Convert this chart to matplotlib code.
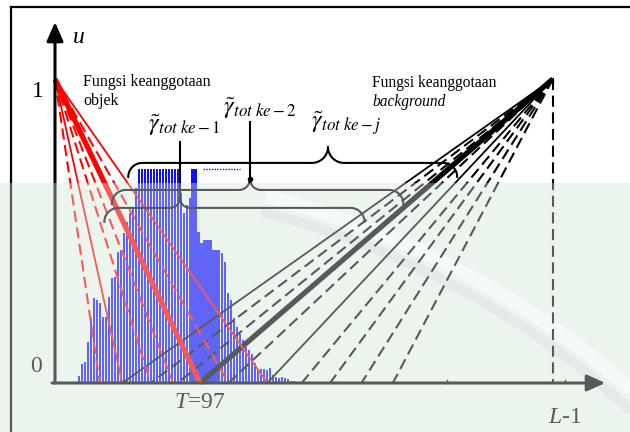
import matplotlib
matplotlib.use('Agg')
import matplotlib.pyplot as plt
import numpy as np
from matplotlib.lines import Line2D
from matplotlib.patches import Rectangle, FancyArrowPatch

plt.rcParams['font.family'] = 'Liberation Serif'
plt.rcParams['mathtext.fontset'] = 'custom'
plt.rcParams['mathtext.rm'] = 'Liberation Serif'
plt.rcParams['mathtext.it'] = 'Liberation Serif:italic'
plt.rcParams['lines.scale_dashes'] = False

PX_X = 1.495   # pixels per grey level
PX_Y = 304.0   # pixels per unit membership

T = 97          # threshold
L_END = 333     # where the background membership reaches 1
L_TICK = 341    # position of the L-1 label
X_TIP = 368     # end of the x axis arrow

# histogram (grey level, count); counts above HIST_CAP are cut off
levels = np.arange(16, 164, 2)
hist = [7, 19, 21, 41, 65, 85, 83, 80, 66, 66,
        86, 105, 106, 131, 133, 150, 161, 170, 176, 195,
        215, 225, 235, 245, 250, 255, 260, 262, 258, 250,
        245, 238, 230, 220, 190, 170, 178, 185, 222, 218,
        151, 140, 143, 143, 143, 133, 133, 133, 130, 121,
        90, 83, 65, 56, 49, 43, 36, 33, 29, 20,
        14, 14, 14, 13, 15, 8, 6, 5, 6, 5,
        4, 2, 2, 1]
HIST_SCALE = 304.0
HIST_CAP = 0.705

# object membership lines: from (0, 1) down to these grey levels
red_ends = [30, 45, 64, 79, 97, 116, 142]
red_styles = ['dash', 'solid', 'dash', 'dash', 'thick', 'dash', 'solid']
# background membership lines: from (L_END, 1) down to these grey levels
black_ends = [45, 64, 82, 97, 116, 142, 165, 184, 205, 226]
black_styles = ['solid', 'dash', 'dash', 'thick', 'dash', 'solid',
                'dash', 'dash', 'dash', 'dash']

# braces: left end, cusp, right end, level, cusp height (px)
brace_x0 = [33, 38, 49]
brace_xc = [83.6, 130.4, 182.6]
brace_x1 = [207, 233, 269]
brace_u = [0.576, 0.635, 0.724]
brace_rise = [10, 11, 16]
brace_labels = [r'$\tilde{\gamma}_{tot\ ke-1}$', r'$\tilde{\gamma}_{tot\ ke-2}$',
                r'$\tilde{\gamma}_{tot\ ke-j}$']
label_x = [62, 112.5, 171]
label_u = [0.829, 0.885, 0.836]
pointer_top = [0.793, 0.859, None]

fig = plt.figure(figsize=(6.3, 4.32), dpi=100)
ax = fig.add_axes([0, 0, 1, 1])
ax.set_xlim(-55 / PX_X, 575 / PX_X)
ax.set_ylim(-49 / PX_Y, 383 / PX_Y)
ax.axis('off')

# tinted lower half of the page, with the pale arc of the watermark
fig.add_artist(Rectangle((0, 0), 1, 1 - 183 / 432, transform=fig.transFigure,
                         facecolor='#f1f6f2', edgecolor='none', zorder=-1))


def wm_arc(radius, colour, width):
    # circle given in pixels, converted to data units
    a = np.linspace(np.radians(44), np.radians(76), 200)
    px = 56.5 + radius * np.cos(a)
    py = 1034.8 - radius * np.sin(a)
    keep = py > 185
    ax.plot((px[keep] - 55) / PX_X, (383 - py[keep]) / PX_Y, color=colour, lw=width,
            solid_capstyle='butt', zorder=0)


wm_arc(864, 'white', 10)
wm_arc(848, '#e4e7e5', 7)

# histogram
heights = np.minimum(np.array(hist) / HIST_SCALE, HIST_CAP)
ax.bar(levels, heights, width=1.4, color='#1010ff', linewidth=0, zorder=1)
ax.plot([99, 124], [HIST_CAP, HIST_CAP], ls=(0, (1, 1)), color='#1010ff', lw=1, zorder=1)


def line_kw(style, colour):
    if style == 'thick':
        return dict(color=colour, lw=3.8, solid_capstyle='butt')
    if style == 'solid':
        return dict(color=colour, lw=1.3)
    return dict(color=colour, lw=1.5, dashes=(8, 4))


for end, st in zip(black_ends, black_styles):
    ax.plot([L_END, end], [1, 0], zorder=3, **line_kw(st, 'black'))
for end, st in zip(red_ends, red_styles):
    ax.plot([0, end], [1, 0], zorder=3, **line_kw(st, '#ff0000'))

# vertical dashed line at the background peak
ax.plot([L_END, L_END], [1, 0], color='black', lw=1.5, dashes=(8, 4), zorder=3)


def brace(x0, xc, x1, level, rise, end=14):
    ex, ey = end / PX_X, end / PX_Y
    cx, cy = rise / PX_X, rise / PX_Y
    t = np.linspace(0, np.pi / 2, 25)
    xs = np.concatenate([x0 + ex - ex * np.cos(t),
                         xc - cx + cx * np.sin(t),
                         xc + cx - cx * np.cos(t),
                         x1 - ex + ex * np.sin(t)])
    ys = np.concatenate([level - ey + ey * np.sin(t),
                         level + cy - cy * np.cos(t),
                         level + cy - cy * np.sin(t),
                         level - ey + ey * np.cos(t)])
    return xs, ys


for i in range(3):
    bx, by = brace(brace_x0[i], brace_xc[i], brace_x1[i], brace_u[i], brace_rise[i])
    ax.plot(bx, by, color='black', lw=1.5, zorder=4)
    tip = brace_u[i] + brace_rise[i] / PX_Y
    if pointer_top[i] is not None:
        ax.plot([brace_xc[i], brace_xc[i]], [tip, pointer_top[i]], color='black', lw=1.5, zorder=4)
    ax.text(label_x[i], label_u[i], brace_labels[i], fontsize=17.5, math_fontfamily='stix',
            ha='left', va='baseline', zorder=4)
ax.plot([brace_xc[1]], [brace_u[1] + brace_rise[1] / PX_Y], 'o', color='black', ms=3, zorder=4)

# axes with arrow heads
ax.add_patch(FancyArrowPatch((-2, 0), (X_TIP, 0), arrowstyle='-|>,head_length=1.1,head_width=0.5',
                             mutation_scale=10, lw=2.2, color='black', shrinkA=0, shrinkB=0, zorder=5))
ax.add_patch(FancyArrowPatch((0, 0), (0, 1.1875), arrowstyle='-|>,head_length=1.15,head_width=0.5',
                             mutation_scale=10, lw=2.2, color='black', shrinkA=0, shrinkB=0, zorder=5))
for tx in [262, L_TICK]:
    ax.plot([tx, tx], [0, 3 / PX_Y], color='black', lw=1, zorder=5)

ax.text(12, 1.118, 'u', fontsize=17, style='italic', ha='left', va='baseline')
ax.text(-7.4, 0.941, '1', fontsize=17, ha='right', va='baseline')
ax.text(-8.7, 0.036, '0', fontsize=17, ha='right', va='baseline')
ax.text(T, -0.082, r'$T$=97', fontsize=17, ha='center', va='baseline')
ax.text(L_TICK, -0.1316, r'$L$-1', fontsize=17, ha='center', va='baseline')

ax.text(18.7, 0.977, 'Fungsi keanggotaan', fontsize=11.5, ha='left', va='baseline')
ax.text(18.7, 0.915, 'objek', fontsize=11.5, ha='left', va='baseline')
ax.text(212, 0.974, 'Fungsi keanggotaan', fontsize=11.2, ha='left', va='baseline')
ax.text(212, 0.912, 'background', fontsize=11.2, style='italic', ha='left', va='baseline')

# frame
fig.add_artist(Line2D([11 / 630, 1], [1 - 7 / 432, 1 - 7 / 432], color='black', lw=1.6, zorder=3))
fig.add_artist(Line2D([11 / 630, 11 / 630], [0, 1 - 7 / 432], color='black', lw=1.6, zorder=3))

# pale wash over the lower part
fig.add_artist(Rectangle((0, 0), 1, 1 - 183 / 432, transform=fig.transFigure,
                         facecolor='#e6f1ea', alpha=0.38, edgecolor='none', zorder=6))

fig.savefig('out.png', dpi=100)
